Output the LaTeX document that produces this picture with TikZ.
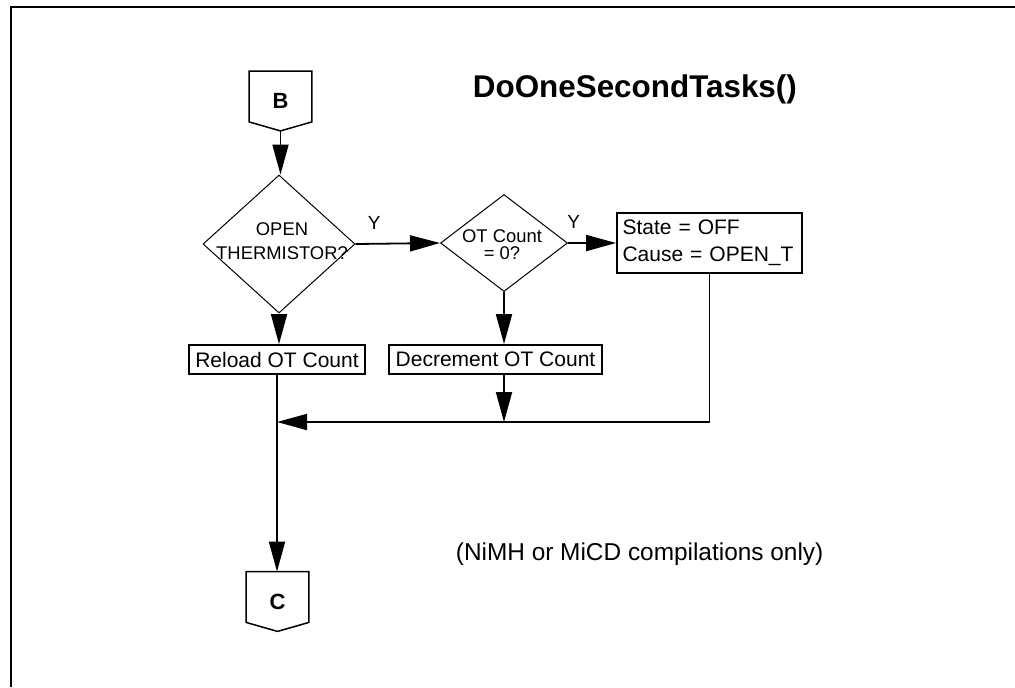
\documentclass[tikz,border=0pt]{standalone}
\usepackage{fontspec}
\setmainfont{Liberation Sans}
\usetikzlibrary{arrows.meta}
\usetikzlibrary{shapes.geometric}
\tikzstyle{block} = [draw,line width=0.9pt,inner xsep=3.3pt,inner ysep=1pt,minimum height=14.5pt,font=\fontsize{10.5}{13.5}\selectfont]
\tikzstyle{decision} = [draw,diamond,line width=0.5pt,inner sep=0pt]
\tikzstyle{offpage} = [minimum width=30.5pt,minimum height=29pt,font=\fontsize{11}{13}\selectfont\bfseries]
\tikzstyle{lbl} = [font=\fontsize{9.2}{12}\selectfont,align=center]

\begin{document}
\begin{tikzpicture}[x=0.5pt,y=-0.5pt,>={Triangle[length=15pt,width=8pt]},line width=0.9pt]

\useasboundingbox (0,0) rectangle (1015,687);

% Frame
\draw[line width=1pt] (1015,7) -- (11,7) -- (11,687);

% Title and note
\node[anchor=base west,inner sep=0pt,font=\fontsize{15.7}{19}\selectfont\bfseries] at (472,97) (title) {DoOneSecondTasks()};
\node[anchor=base west,inner sep=0pt,font=\fontsize{12.2}{15}\selectfont] at (455,560) (note) {(NiMH or MiCD compilations only)};

% Connectors in and out
\node[offpage] at (280.5,101) (B) {B};
\node[offpage] at (277.5,601.5) (C) {C};
\foreach \c in {B,C}
    \draw[line width=0.75pt] (\c.north west) -- (\c.north east) -- ([yshift=4.5pt]\c.south east)
        -- (\c.south) -- ([yshift=4.5pt]\c.south west) -- cycle;

% Decisions
\node[decision,minimum width=76pt,minimum height=69pt] at (279,244) (open) {};
\node[lbl] at (282,241) (opentxt) {OPEN\\THERMISTOR?};
\node[decision,minimum width=63.5pt,minimum height=48.5pt] at (504,243) (otzero) {};
\node[lbl,font=\fontsize{9.2}{8.5}\selectfont] at (502,244.5) (otzerotxt) {OT Count\\= 0?};

% Actions
\node[block,text width=87pt,inner xsep=2.75pt,align=left,minimum height=30pt] at (709.5,243) (off) {State = OFF\\Cause = OPEN\_T};
\node[block] at (277,359.5) (reload) {Reload OT Count};
\node[block] at (495.5,359.5) (decr) {Decrement OT Count};
\coordinate (merge) at (710,422);

% Flow
\draw[->] (B.south) -- (B.south |- open.north);
\draw[->] (open.east) -- node[pos=0.22,above=3.5pt,font=\fontsize{9.5}{11}\selectfont] (y1) {Y} (otzero.west);
\draw[->] (otzero.east) -- node[pos=0.12,above=3.5pt,font=\fontsize{9.5}{11}\selectfont] (y2) {Y} (off.west);
\draw[->] (open.south) -- (open.south |- reload.north);
\draw[->] (otzero.south) -- (otzero.south |- decr.north);
\draw[->] (otzero.south |- decr.south) -- (otzero.south |- merge);
\draw[->] (off.south) |- (reload.south |- merge);
\draw[->] (reload.south) -- (reload.south |- C.north);

\end{tikzpicture}
\end{document}
